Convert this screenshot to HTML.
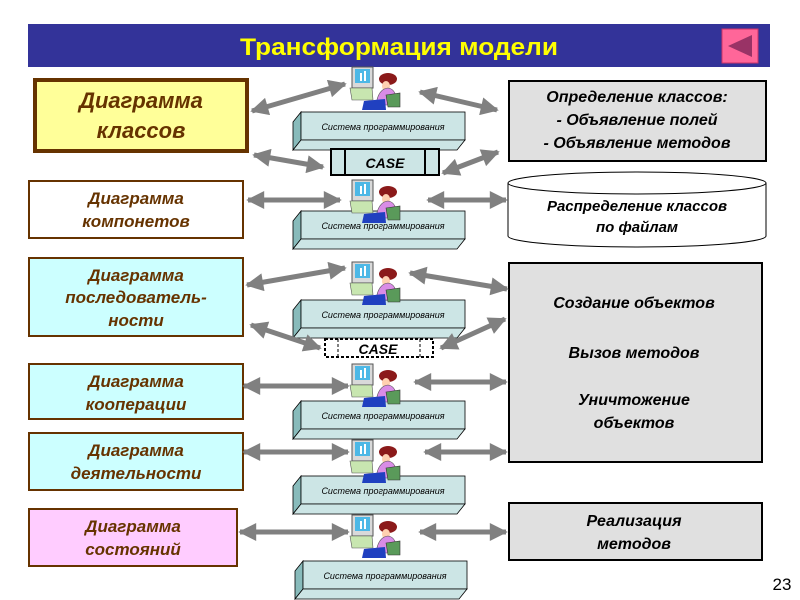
<!DOCTYPE html>
<html><head><meta charset="utf-8"><style>
body{margin:0;background:#fff}
svg{display:block}
text{font-family:"Liberation Sans",sans-serif;font-weight:bold;font-style:italic}
text.n{font-style:normal}
text.s{font-weight:normal;font-style:italic}
text.t{font-family:"Liberation Sans Narrow","Liberation Sans",sans-serif;font-style:normal;font-weight:bold}
</style></head><body>
<svg width="800" height="600" viewBox="0 0 800 600" xmlns="http://www.w3.org/2000/svg">
<defs>
<marker id="ah" viewBox="0 0 10 10" refX="9" refY="5" markerWidth="4" markerHeight="3.6" orient="auto-start-reverse" markerUnits="strokeWidth"><path d="M0,0 L10,5 L0,10 z" fill="#808080"/></marker>
<g id="person">
<rect x="12" y="12" width="21" height="21" fill="#d9d9d9" stroke="#555" stroke-width="1"/>
<rect x="15" y="14" width="15" height="14" fill="#4db8e6"/>
<rect x="20" y="18" width="2" height="8" fill="#fff"/><rect x="24" y="16" width="2" height="10" fill="#fff"/>
<path d="M10 33 L32 33 L33 45 L12 45 z" fill="#c8e6b0" stroke="#555" stroke-width="0.6"/>
<ellipse cx="48" cy="24" rx="9" ry="6" fill="#8b1a1a"/>
<ellipse cx="46" cy="31" rx="4" ry="5" fill="#ffd0b0"/>
<path d="M36 50 Q38 34 48 33 Q57 34 57 50 z" fill="#d98ce6" stroke="#555" stroke-width="0.6"/>
<path d="M46 40 L60 38 L60 52 L48 52 z" fill="#5a9a5a" stroke="#333" stroke-width="0.6"/>
<path d="M24 46 L45 44 L46 55 L22 55 z" fill="#2040c0"/>
</g>
<g id="sys">
<polygon points="0,10 8,0 8,28 0,38" fill="#8bb" stroke="#000" stroke-width="0.8"/>
<rect x="8" y="0" width="164" height="28" fill="#cce5e5" stroke="#000" stroke-width="0.8"/>
<polygon points="0,38 8,28 172,28 164,38" fill="#cce5e5" stroke="#000" stroke-width="0.8"/>
<text class="s" x="90" y="18" font-size="9" text-anchor="middle" fill="#000">Система программирования</text>
</g>
</defs>

<rect x="28" y="24" width="742" height="43" fill="#333399"/>
<text class="t" x="399" y="55" font-size="24" fill="#ffff00" text-anchor="middle" textLength="318" lengthAdjust="spacingAndGlyphs">Трансформация модели</text>
<rect x="722" y="29" width="36" height="34" fill="#ff6699" stroke="#cc3366"/>
<polygon points="728,46 752,35 752,57" fill="#993366"/>

<rect x="35" y="80" width="212" height="71" fill="#ffff99" stroke="#663300" stroke-width="4"/>
<text font-size="22" fill="#663300" text-anchor="middle"><tspan x="141" y="108">Диаграмма</tspan><tspan x="141" y="138">классов</tspan></text>
<rect x="29" y="181" width="214" height="57" fill="#fff" stroke="#663300" stroke-width="2"/>
<text font-size="17" fill="#663300" text-anchor="middle"><tspan x="136" y="204">Диаграмма</tspan><tspan x="136" y="227">компонетов</tspan></text>
<rect x="29" y="258" width="214" height="78" fill="#ccffff" stroke="#663300" stroke-width="2"/>
<text font-size="17" fill="#663300" text-anchor="middle"><tspan x="136" y="281">Диаграмма</tspan><tspan x="136" y="303">последователь-</tspan><tspan x="136" y="326">ности</tspan></text>
<rect x="29" y="364" width="214" height="55" fill="#ccffff" stroke="#663300" stroke-width="2"/>
<text font-size="17" fill="#663300" text-anchor="middle"><tspan x="136" y="387">Диаграмма</tspan><tspan x="136" y="410">кооперации</tspan></text>
<rect x="29" y="433" width="214" height="57" fill="#ccffff" stroke="#663300" stroke-width="2"/>
<text font-size="17" fill="#663300" text-anchor="middle"><tspan x="136" y="456">Диаграмма</tspan><tspan x="136" y="479">деятельности</tspan></text>
<rect x="29" y="509" width="208" height="57" fill="#ffccff" stroke="#663300" stroke-width="2"/>
<text font-size="17" fill="#663300" text-anchor="middle"><tspan x="133" y="532">Диаграмма</tspan><tspan x="133" y="555">состояний</tspan></text>

<rect x="509" y="81" width="257" height="80" fill="#e0e0e0" stroke="#000" stroke-width="2"/>
<text font-size="16" fill="#000" text-anchor="middle"><tspan x="637" y="102">Определение классов:</tspan><tspan x="637" y="125">- Объявление полей</tspan><tspan x="637" y="148">- Объявление методов</tspan></text>
<path d="M508,183 L508,236 A129,11 0 0 0 766,236 L766,183" fill="#fff" stroke="#000"/>
<ellipse cx="637" cy="183" rx="129" ry="11" fill="#fff" stroke="#000"/>
<text font-size="15" fill="#000" text-anchor="middle"><tspan x="637" y="211">Распределение классов</tspan><tspan x="637" y="232">по файлам</tspan></text>
<rect x="509" y="263" width="253" height="199" fill="#e0e0e0" stroke="#000" stroke-width="2"/>
<text font-size="16" fill="#000" text-anchor="middle"><tspan x="634" y="308">Создание объектов</tspan><tspan x="634" y="358">Вызов методов</tspan><tspan x="634" y="405">Уничтожение</tspan><tspan x="634" y="428">объектов</tspan></text>
<rect x="509" y="503" width="253" height="57" fill="#e0e0e0" stroke="#000" stroke-width="2"/>
<text font-size="16" fill="#000" text-anchor="middle"><tspan x="634" y="526">Реализация</tspan><tspan x="634" y="549">методов</tspan></text>

<use href="#sys" x="293" y="112"/>
<use href="#sys" x="293" y="211"/>
<use href="#sys" x="293" y="300"/>
<use href="#sys" x="293" y="401"/>
<use href="#sys" x="293" y="476"/>
<use href="#sys" x="295" y="561"/>

<use href="#person" x="340" y="55"/>
<use href="#person" x="340" y="168"/>
<use href="#person" x="340" y="250"/>
<use href="#person" x="340" y="352"/>
<use href="#person" x="340" y="428"/>
<use href="#person" x="340" y="503"/>

<rect x="331" y="149" width="108" height="26" fill="#cce5e5" stroke="#000" stroke-width="2"/>
<line x1="345" y1="149" x2="345" y2="175" stroke="#000" stroke-width="2"/>
<line x1="425" y1="149" x2="425" y2="175" stroke="#000" stroke-width="2"/>
<text x="385" y="168" font-size="14" text-anchor="middle" fill="#000">CASE</text>
<rect x="325" y="339" width="108" height="18" fill="#fff" stroke="#000" stroke-width="2" stroke-dasharray="3,2"/>
<line x1="338" y1="339" x2="338" y2="357" stroke="#000" stroke-dasharray="3,2"/>
<line x1="420" y1="339" x2="420" y2="357" stroke="#000" stroke-dasharray="3,2"/>
<text x="378" y="354" font-size="14" text-anchor="middle" fill="#000">CASE</text>

<g stroke="#808080" stroke-width="5" marker-start="url(#ah)" marker-end="url(#ah)">
<line x1="252" y1="111" x2="345" y2="84"/>
<line x1="420" y1="92" x2="497" y2="110"/>
<line x1="254" y1="155" x2="323" y2="167"/>
<line x1="443" y1="173" x2="498" y2="152"/>
<line x1="248" y1="200" x2="340" y2="200"/>
<line x1="428" y1="200" x2="506" y2="200"/>
<line x1="247" y1="285" x2="345" y2="268"/>
<line x1="410" y1="273" x2="507" y2="289"/>
<line x1="251" y1="325" x2="320" y2="348"/>
<line x1="441" y1="348" x2="505" y2="319"/>
<line x1="244" y1="386" x2="348" y2="386"/>
<line x1="415" y1="382" x2="506" y2="382"/>
<line x1="244" y1="452" x2="348" y2="452"/>
<line x1="425" y1="452" x2="506" y2="452"/>
<line x1="240" y1="532" x2="348" y2="532"/>
<line x1="420" y1="532" x2="506" y2="532"/>
</g>

<text class="n" x="782" y="590" font-size="17" text-anchor="middle" font-weight="normal" fill="#000" style="font-weight:normal">23</text>
</svg>
</body></html>
